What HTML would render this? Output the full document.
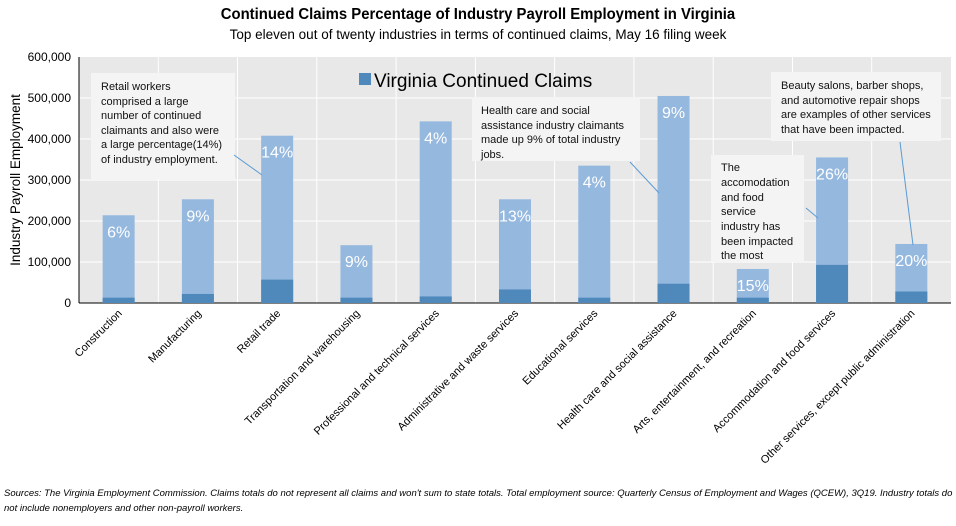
<!DOCTYPE html>
<html><head><meta charset="utf-8"><style>
body{margin:0;background:#fff;width:956px;height:521px;overflow:hidden;font-family:"Liberation Sans",Arial,sans-serif}
</style></head><body>
<svg width="956" height="521" xmlns="http://www.w3.org/2000/svg" font-family="Liberation Sans, Arial, sans-serif">
<text x="478" y="19" text-anchor="middle" font-size="16" font-weight="bold" transform="scale(0.93,1)" transform-origin="478 19">Continued Claims Percentage of Industry Payroll Employment in Virginia</text>
<text x="478" y="39" text-anchor="middle" font-size="13.5">Top eleven out of twenty industries in terms of continued claims, May 16 filing week</text>
<rect x="79" y="57" width="872" height="246" fill="#e8e8e8"/>
<g stroke="#fff" stroke-width="1">
<line x1="79" x2="951" y1="98" y2="98"/><line x1="79" x2="951" y1="139" y2="139"/><line x1="79" x2="951" y1="180" y2="180"/><line x1="79" x2="951" y1="221" y2="221"/><line x1="79" x2="951" y1="262" y2="262"/>
<line x1="158.3" x2="158.3" y1="57" y2="303"/><line x1="237.5" x2="237.5" y1="57" y2="303"/><line x1="316.8" x2="316.8" y1="57" y2="303"/><line x1="396.1" x2="396.1" y1="57" y2="303"/><line x1="475.4" x2="475.4" y1="57" y2="303"/><line x1="554.6" x2="554.6" y1="57" y2="303"/><line x1="633.9" x2="633.9" y1="57" y2="303"/><line x1="713.2" x2="713.2" y1="57" y2="303"/><line x1="792.5" x2="792.5" y1="57" y2="303"/><line x1="871.7" x2="871.7" y1="57" y2="303"/>
</g>
<g stroke="#000" stroke-width="1"><line x1="79" y1="57" x2="79" y2="303"/><line x1="79" y1="303" x2="951" y2="303"/></g>
<g font-size="12" text-anchor="end" fill="#000">
<text x="71" y="61">600,000</text><text x="71" y="102">500,000</text><text x="71" y="143">400,000</text><text x="71" y="184">300,000</text><text x="71" y="225">200,000</text><text x="71" y="266">100,000</text><text x="71" y="307">0</text>
</g>
<text transform="translate(20,180) rotate(-90)" text-anchor="middle" font-size="13.5">Industry Payroll Employment</text>
<g id="bars"></g>
<rect x="91" y="73" width="144" height="106" fill="#f4f4f4"/>
<rect x="472" y="97" width="168" height="64" fill="#f4f4f4"/>
<rect x="711" y="155" width="93" height="107" fill="#f4f4f4"/>
<rect x="771" y="72" width="170" height="69" fill="#f4f4f4"/>
<g stroke="#5b9bd5" stroke-width="1">
<line x1="234" y1="155" x2="262" y2="175"/><line x1="630" y1="162" x2="659" y2="193"/><line x1="806" y1="208" x2="818" y2="218"/><line x1="900" y1="142" x2="913" y2="245"/>
</g>
<g font-size="11" fill="#111">
<text x="101" y="90">Retail workers</text><text x="101" y="105">comprised a large</text><text x="101" y="119">number of continued</text><text x="101" y="134">claimants and also were</text><text x="101" y="148">a large percentage(14%)</text><text x="101" y="163">of industry employment.</text>
<text x="481" y="114">Health care and social</text><text x="481" y="129">assistance industry claimants</text><text x="481" y="143">made up 9% of total industry</text><text x="481" y="158">jobs.</text>
<text x="721" y="171">The</text><text x="721" y="186">accomodation</text><text x="721" y="201">and food</text><text x="721" y="215">service</text><text x="721" y="230">industry has</text><text x="721" y="245">been impacted</text><text x="721" y="259">the most</text>
<text x="781" y="89">Beauty salons, barber shops,</text><text x="781" y="104">and automotive repair shops</text><text x="781" y="118">are examples of other services</text><text x="781" y="133">that have been impacted.</text>
</g>
<rect x="359" y="73" width="12" height="12" fill="#4f88bb"/>
<text x="374" y="87" font-size="19">Virginia Continued Claims</text>
<g font-size="16" fill="#fff" text-anchor="middle" id="pct"></g>
<g font-size="11" text-anchor="end" id="cats"></g>
<text x="4" y="496" font-size="9.5" font-style="italic">Sources: The Virginia Employment Commission. Claims totals do not represent all claims and won't sum to state totals. Total employment source: Quarterly Census of Employment and Wages (QCEW), 3Q19. Industry totals do</text>
<text x="4" y="511" font-size="9.5" font-style="italic">not include nonemployers and other non-payroll workers.</text>
<script>
var tot=[214,253,408,141,443,253,335,505,83,355,144],dk=[13,22,57,13,16,33,13,47,13,93,28],
p=["6%","9%","14%","9%","4%","13%","4%","9%","15%","26%","20%"],
n=["Construction","Manufacturing","Retail trade","Transportation and warehousing","Professional and technical services","Administrative and waste services","Educational services","Health care and social assistance","Arts, entertainment, and recreation","Accommodation and food services","Other services, except public administration"];
var NS="http://www.w3.org/2000/svg",b=document.getElementById("bars"),pc=document.getElementById("pct"),c=document.getElementById("cats");
function el(t,a,par,tx){var e=document.createElementNS(NS,t);for(var k in a)e.setAttribute(k,a[k]);if(tx)e.textContent=tx;par.appendChild(e);return e;}
for(var i=0;i<11;i++){var cx=79+79.27*(i+0.5),y0=303,s=0.41;
el("rect",{x:cx-16,y:y0-tot[i]*s,width:32,height:tot[i]*s,fill:"#95b8df"},b);
el("rect",{x:cx-16,y:y0-dk[i]*s,width:32,height:dk[i]*s,fill:"#4f88bb"},b);
el("text",{x:cx,y:y0-tot[i]*s+22},pc,p[i]);
el("text",{x:cx+4,y:314,transform:"rotate(-45 "+(cx+4)+" 314)"},c,n[i]);}
</script>
</svg>
</body></html>
